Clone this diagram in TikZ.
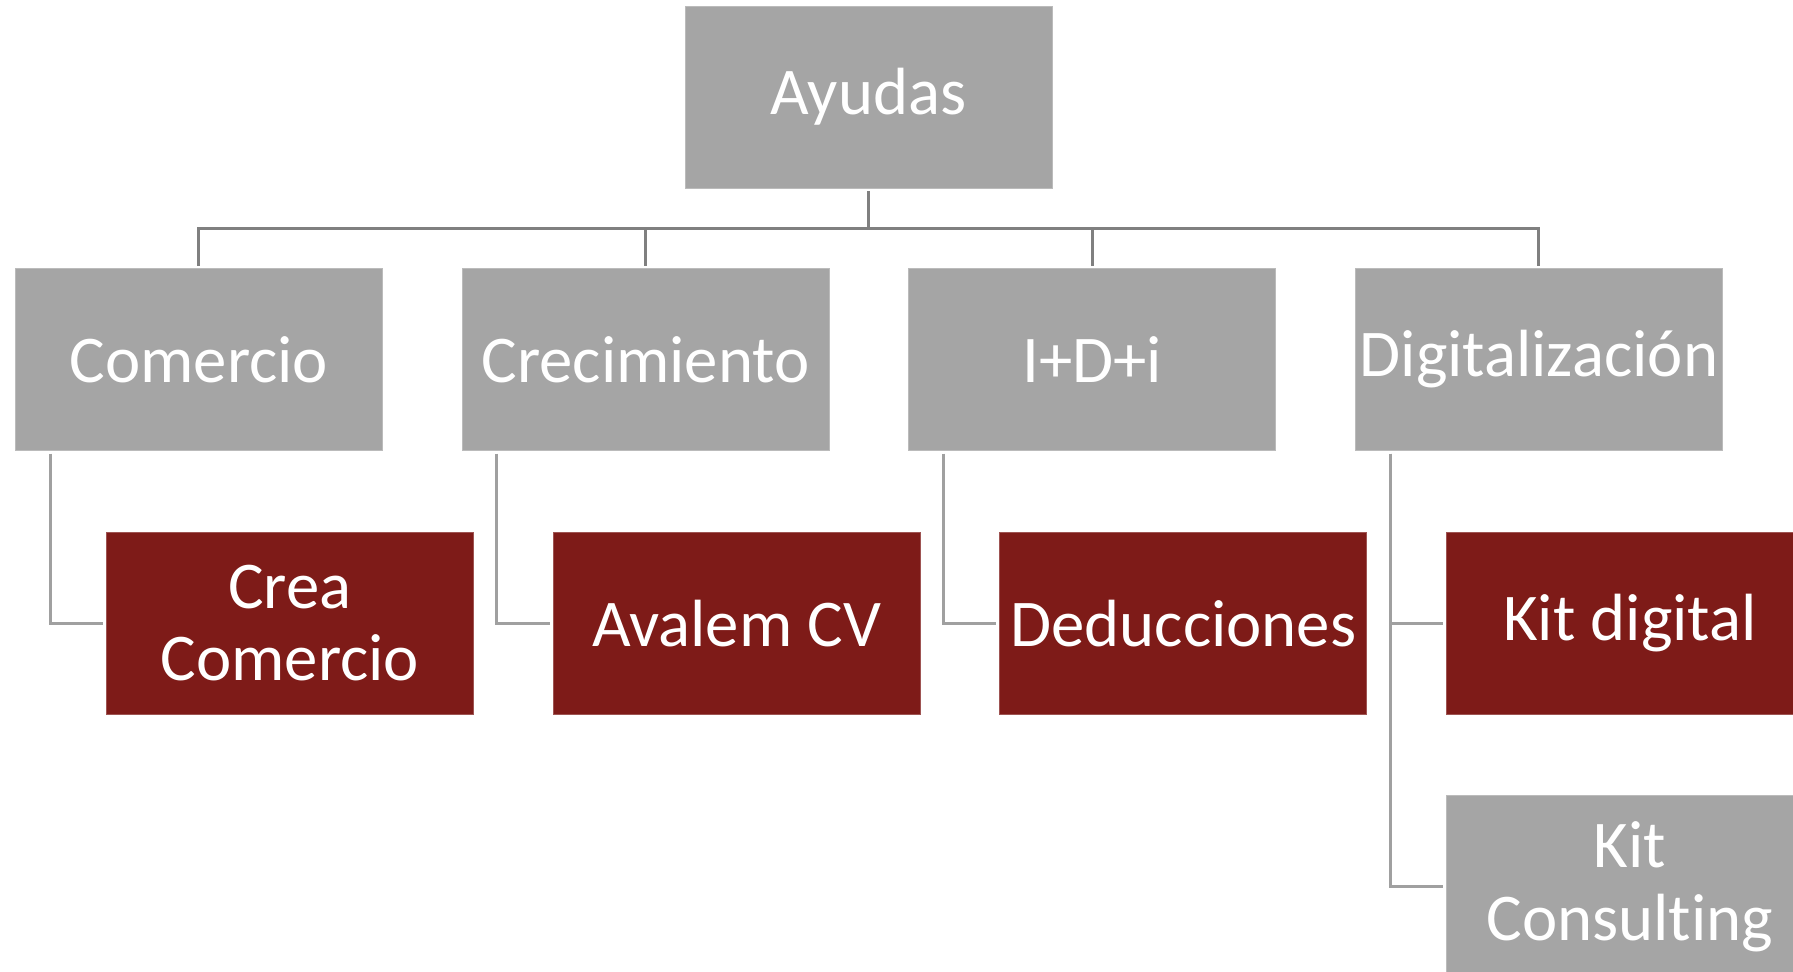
\documentclass[tikz,border=0pt]{standalone}
\usepackage{fontspec}
\setmainfont{Carlito}[Ligatures=NoCommon]
\usetikzlibrary{positioning}
\definecolor{grisayuda}{RGB}{165,165,165}
\definecolor{rojoayuda}{RGB}{126,27,24}
\definecolor{lineabus}{RGB}{128,128,128}
\definecolor{lineahoja}{RGB}{160,160,160}

\begin{document}
\begin{tikzpicture}
		\tikzset{
			caja/.style={rectangle, fill=#1, draw=#1!75!white, line width=0.4pt,
				minimum width=7.34cm, minimum height=3.64cm, inner sep=0pt,
				text=white, align=center, font=\fontsize{38}{41}\selectfont},
			rama/.style={caja=grisayuda},
			hoja/.style={caja=rojoayuda},
			bus/.style={draw=lineabus, line width=0.06cm, shorten <=0.06cm, shorten >=0.04cm},
			enlace/.style={draw=lineahoja, line width=0.06cm, shorten <=0.06cm, shorten >=0.06cm}
		}
		\clip (0,0) rectangle (35.86,-19.42);
		\useasboundingbox (0,0) rectangle (35.86,-19.42);
		% raiz
		\node[rama] (ayudas) at (17.37,-1.94) {Ayudas};
		% primer nivel
		\node[rama, anchor=north west] (comercio) at (0.3,-5.36) {Comercio};
		\node[rama, right=1.58cm of comercio] (crecimiento) {Crecimiento};
		\node[rama, right=1.58cm of crecimiento] (idi) {I+D+i};
		\node[rama, right=1.58cm of idi] (digital) {Digitalización};
		% segundo nivel
		\node[hoja, anchor=north west] (crea) at ([xshift=1.82cm, yshift=-1.62cm]comercio.south west) {Crea\\Comercio};
		\node[hoja, anchor=north west] (avalem) at ([xshift=1.82cm, yshift=-1.62cm]crecimiento.south west) {Avalem CV};
		\node[hoja, anchor=north west] (deducciones) at ([xshift=1.82cm, yshift=-1.62cm]idi.south west) {Deducciones};
		\node[hoja, anchor=north west] (kitdigital) at ([xshift=1.82cm, yshift=-1.62cm]digital.south west) {Kit digital};
		\node[rama, below=1.62cm of kitdigital] (kitconsulting) {Kit\\Consulting};
		% conectores
		\foreach \n in {comercio,crecimiento,idi,digital}
			\draw[bus] (ayudas.south) -- ++(0,-0.8) -| (\n.north);
		\draw[enlace] ([xshift=0.7cm]comercio.south west) |- (crea.west);
		\draw[enlace] ([xshift=0.7cm]crecimiento.south west) |- (avalem.west);
		\draw[enlace] ([xshift=0.7cm]idi.south west) |- (deducciones.west);
		\draw[enlace] ([xshift=0.7cm]digital.south west) |- (kitdigital.west);
		\draw[enlace] ([xshift=0.7cm]digital.south west) |- (kitconsulting.west);
	\end{tikzpicture}
\end{document}
